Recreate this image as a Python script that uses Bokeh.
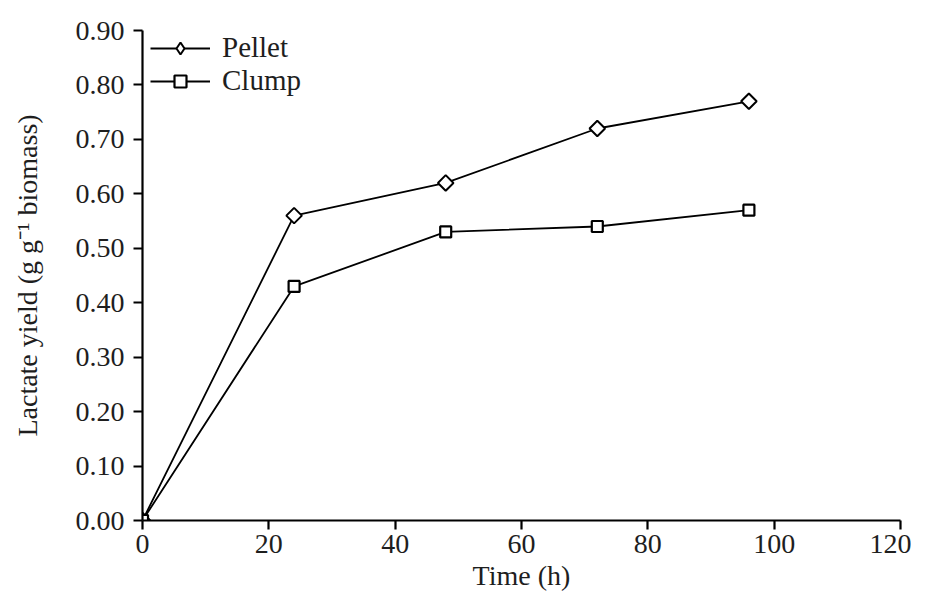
from bokeh.plotting import figure
from bokeh.models import FixedTicker, Range1d, Legend, LegendItem
from bokeh.embed import file_html
from bokeh.resources import INLINE

time_h = [0, 24, 48, 72, 96]
pellet = [0.00, 0.56, 0.62, 0.72, 0.77]
clump = [0.00, 0.43, 0.53, 0.54, 0.57]
x_ticks = [0, 20, 40, 60, 80, 100, 120]
y_ticks = [0.0, 0.1, 0.2, 0.3, 0.4, 0.5, 0.6, 0.7, 0.8, 0.9]
y_tick_labels = ["0.00", "0.10", "0.20", "0.30", "0.40", "0.50", "0.60", "0.70", "0.80", "0.90"]

FONT = "Liberation Serif"
TXT = "#1e1e1e"

p = figure(width=911, height=593, output_backend="svg", toolbar_location=None,
           x_range=Range1d(0, 120), y_range=Range1d(0, 0.9),
           min_border_left=142, min_border_top=30, min_border_right=11, min_border_bottom=72)
p.outline_line_color = None
p.grid.visible = False
p.background_fill_color = "white"

l1 = p.line(time_h, pellet, line_color="black", line_width=1.8)
# small diamond marker (used as the legend key; hidden under the larger diamonds)
k1 = p.scatter(time_h, pellet, marker="diamond", size=12, fill_color="white",
               line_color="black", line_width=2)
# diamonds drawn as squares turned by 45 degrees
m1 = p.scatter(time_h, pellet, marker="square", angle=0.785398, size=11,
               fill_color="white", line_color="black", line_width=2)
l2 = p.line(time_h, clump, line_color="black", line_width=1.8)
m2 = p.scatter(time_h, clump, marker="square", size=11, fill_color="white",
               line_color="black", line_width=2.2)

for ax in (p.xaxis[0], p.yaxis[0]):
    ax.axis_line_width = 2.2
    ax.axis_line_color = "black"
    ax.major_tick_line_width = 2.2
    ax.major_tick_line_color = "black"
    ax.major_tick_out = 9
    ax.major_tick_in = 0
    ax.minor_tick_line_color = None
    ax.major_label_text_font = FONT
    ax.major_label_text_font_size = "28px"
    ax.major_label_text_color = TXT
    ax.axis_label_text_font = FONT
    ax.axis_label_text_font_size = "28px"
    ax.axis_label_text_font_style = "normal"
    ax.axis_label_text_color = TXT

p.xaxis[0].ticker = FixedTicker(ticks=x_ticks)
p.yaxis[0].ticker = FixedTicker(ticks=y_ticks)
p.yaxis[0].major_label_overrides = {t: s for t, s in zip(y_ticks, y_tick_labels)}
p.xaxis[0].axis_label = "Time (h)"
p.yaxis[0].axis_label = "Lactate yield (g g\u207b\u00b9 biomass)"
p.xaxis[0].major_label_standoff = 5
p.yaxis[0].major_label_standoff = 9
p.xaxis[0].axis_label_standoff = 4
p.yaxis[0].axis_label_standoff = 30

legend = Legend(items=[LegendItem(label="Pellet", renderers=[l1, k1]),
                       LegendItem(label="Clump", renderers=[l2, m2])],
                location=(8, 423))
legend.border_line_color = None
legend.background_fill_alpha = 0
legend.label_text_font = FONT
legend.label_text_font_size = "29px"
legend.label_text_color = TXT
legend.glyph_width = 60
legend.glyph_height = 30
legend.spacing = 0
legend.padding = 0
legend.margin = 0
legend.label_standoff = 12
p.add_layout(legend)

open("out.html", "w").write(file_html(p, INLINE))
